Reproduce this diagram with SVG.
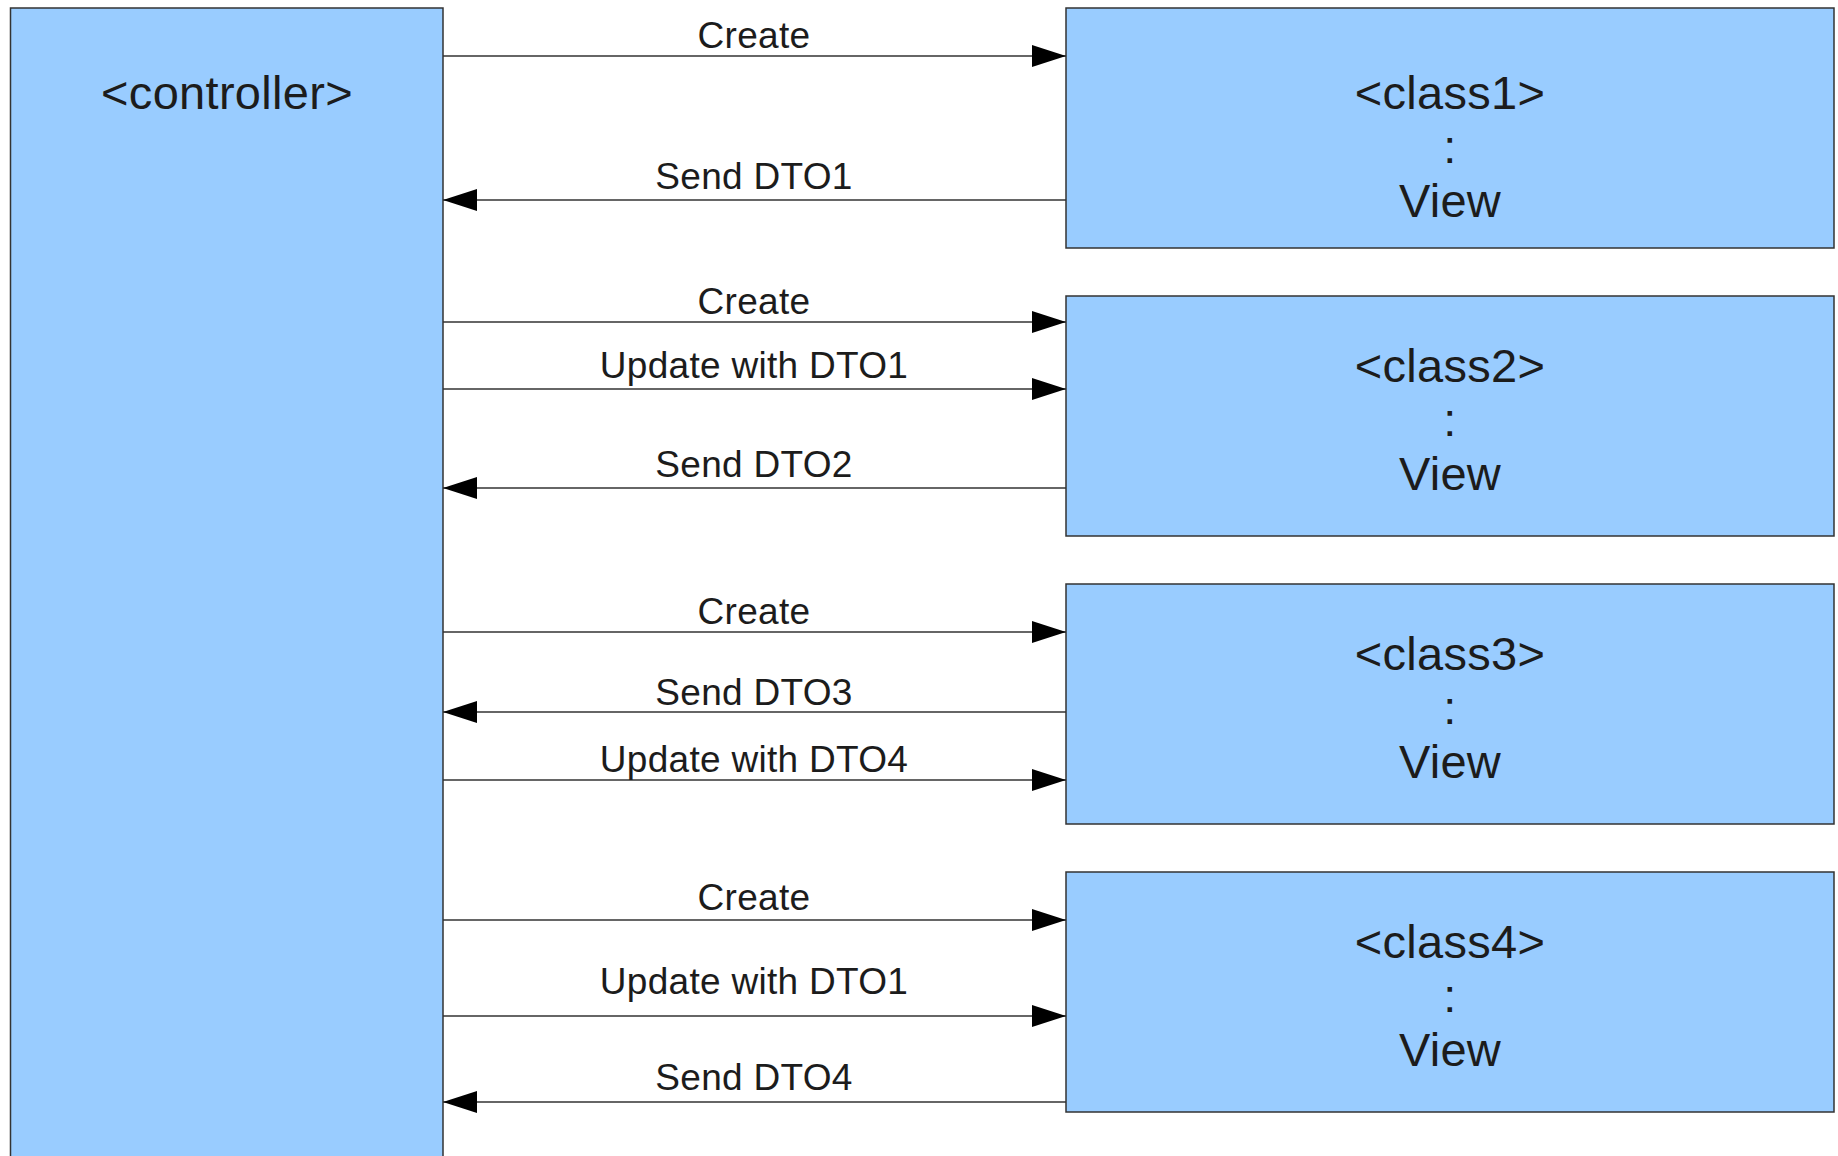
<svg xmlns="http://www.w3.org/2000/svg" width="1838" height="1156" viewBox="0 0 1838 1156">
<style>
.box{fill:#99ccff;stroke:#333;stroke-width:1.5}
.big{font-family:"Liberation Sans",Arial,sans-serif;font-size:47px;fill:#1c1c1c;text-anchor:middle;letter-spacing:0.3px}
.lbl{font-family:"Liberation Sans",Arial,sans-serif;font-size:37px;fill:#1c1c1c;text-anchor:middle;letter-spacing:0.3px}
.ln{stroke:#333;stroke-width:1.4;fill:none}
</style>
<defs>
<marker id="ah" markerUnits="userSpaceOnUse" markerWidth="36" markerHeight="24" refX="34" refY="11" orient="auto">
<path d="M0,0 L34,11 L0,22 Z" fill="#000"/>
</marker>
</defs>
<rect width="1838" height="1156" fill="#fff"/>
<g id="controller">
<rect class="box" x="10.5" y="8" width="432.5" height="1160"/>
<text class="big" x="227" y="109">&lt;controller&gt;</text>
</g>
<g id="class1">
<rect class="box" x="1066" y="8" width="768" height="240"/>
<text class="big" x="1450" y="109">&lt;class1&gt;</text>
<text class="big" x="1450" y="163">:</text>
<text class="big" x="1450" y="217">View</text>
</g>
<g id="class2">
<rect class="box" x="1066" y="296" width="768" height="240"/>
<text class="big" x="1450" y="382">&lt;class2&gt;</text>
<text class="big" x="1450" y="436">:</text>
<text class="big" x="1450" y="490">View</text>
</g>
<g id="class3">
<rect class="box" x="1066" y="584" width="768" height="240"/>
<text class="big" x="1450" y="670">&lt;class3&gt;</text>
<text class="big" x="1450" y="724">:</text>
<text class="big" x="1450" y="778">View</text>
</g>
<g id="class4">
<rect class="box" x="1066" y="872" width="768" height="240"/>
<text class="big" x="1450" y="958">&lt;class4&gt;</text>
<text class="big" x="1450" y="1012">:</text>
<text class="big" x="1450" y="1066">View</text>
</g>
<g id="connectors">
<path class="ln" d="M443,56 H1066" marker-end="url(#ah)"/>
<path class="ln" d="M1066,200 H443" marker-end="url(#ah)"/>
<path class="ln" d="M443,322 H1066" marker-end="url(#ah)"/>
<path class="ln" d="M443,389 H1066" marker-end="url(#ah)"/>
<path class="ln" d="M1066,488 H443" marker-end="url(#ah)"/>
<path class="ln" d="M443,632 H1066" marker-end="url(#ah)"/>
<path class="ln" d="M1066,712 H443" marker-end="url(#ah)"/>
<path class="ln" d="M443,780 H1066" marker-end="url(#ah)"/>
<path class="ln" d="M443,920 H1066" marker-end="url(#ah)"/>
<path class="ln" d="M443,1016 H1066" marker-end="url(#ah)"/>
<path class="ln" d="M1066,1102 H443" marker-end="url(#ah)"/>
<text class="lbl" x="754" y="48">Create</text>
<text class="lbl" x="754" y="189">Send DTO1</text>
<text class="lbl" x="754" y="314">Create</text>
<text class="lbl" x="754" y="378">Update with DTO1</text>
<text class="lbl" x="754" y="477">Send DTO2</text>
<text class="lbl" x="754" y="624">Create</text>
<text class="lbl" x="754" y="705">Send DTO3</text>
<text class="lbl" x="754" y="772">Update with DTO4</text>
<text class="lbl" x="754" y="910">Create</text>
<text class="lbl" x="754" y="994">Update with DTO1</text>
<text class="lbl" x="754" y="1090">Send DTO4</text>
</g>
</svg>
